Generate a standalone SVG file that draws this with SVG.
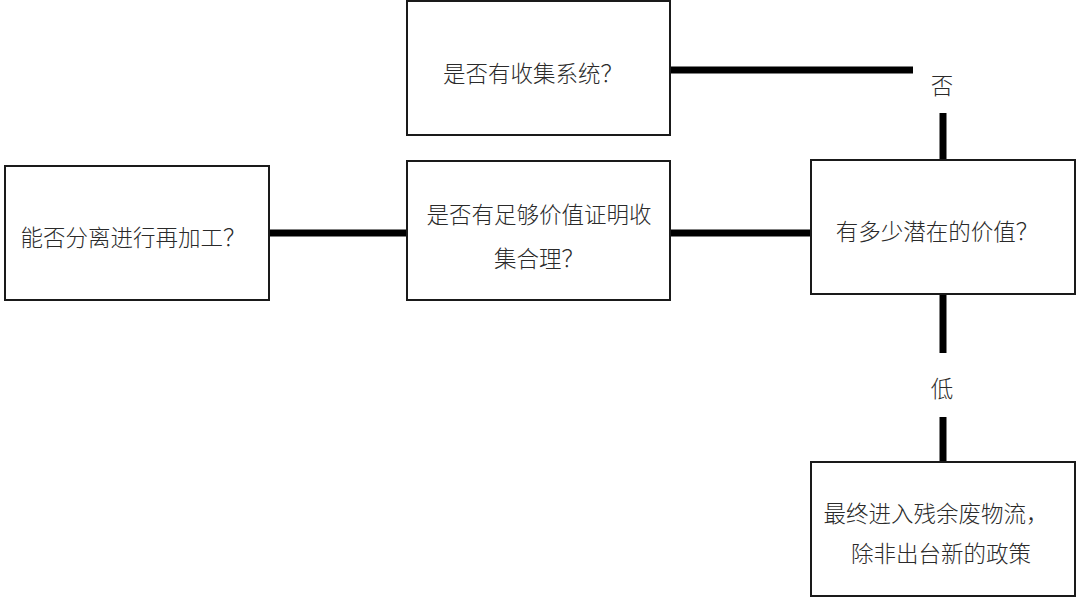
<svg xmlns="http://www.w3.org/2000/svg" width="1080" height="597" viewBox="0 0 1080 597">
<style>
.box{fill:#fff;stroke:#1a1a1a;stroke-width:2}
.t{font-family:"Noto Sans CJK SC","Noto Sans",sans-serif;font-size:22.5px;font-weight:300;fill:#2a2a2a;text-anchor:middle;dominant-baseline:central}
.c{stroke:#000;stroke-width:7;fill:none}
</style>
<rect width="1080" height="597" fill="#fff"/>
<g id="connectors">
<line class="c" x1="670" y1="70" x2="913" y2="70"/>
<line class="c" x1="943" y1="113" x2="943" y2="160"/>
<line class="c" x1="269" y1="233" x2="407" y2="233"/>
<line class="c" x1="670" y1="233" x2="811" y2="233"/>
<line class="c" x1="943" y1="293" x2="943" y2="353"/>
<line class="c" x1="943" y1="417" x2="943" y2="462"/>
<text class="t" x="942" y="84">否</text>
<text class="t" x="942" y="387">低</text>
</g>
<g id="node-collect">
<rect class="box" x="407" y="1" width="263" height="134"/>
<text class="t" x="533" y="72">是否有收集系统？</text>
</g>
<g id="node-separate">
<rect class="box" x="5" y="166" width="264" height="134"/>
<text class="t" x="133" y="236">能否分离进行再加工？</text>
</g>
<g id="node-justify">
<rect class="box" x="407" y="161" width="263" height="139"/>
<text class="t" x="539" y="213">是否有足够价值证明收</text>
<text class="t" x="539" y="257">集合理？</text>
</g>
<g id="node-value">
<rect class="box" x="811" y="160" width="264" height="134"/>
<text class="t" x="937" y="230">有多少潜在的价值？</text>
</g>
<g id="node-residual">
<rect class="box" x="811" y="462" width="264" height="134"/>
<text class="t" x="936" y="512">最终进入残余废物流，</text>
<text class="t" x="941" y="552">除非出台新的政策</text>
</g>
</svg>
